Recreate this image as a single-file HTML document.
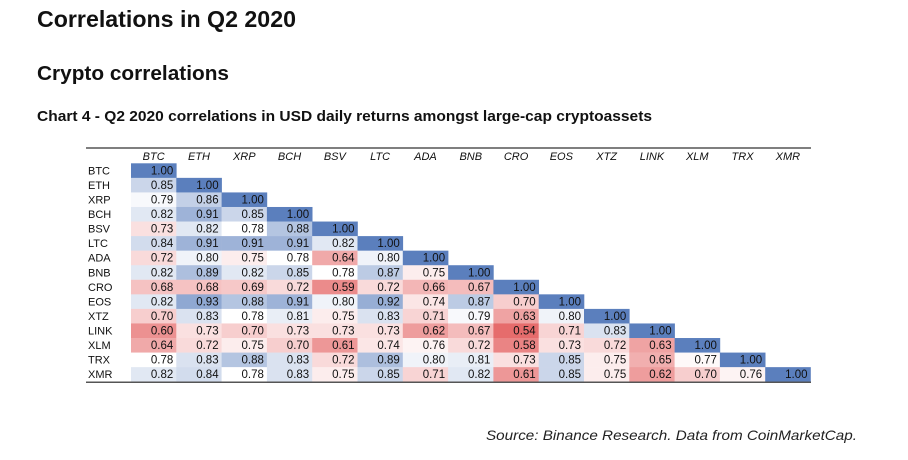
<!DOCTYPE html>
<html><head><meta charset="utf-8"><style>
body{margin:0;background:#fff;}
svg{display:block;font-family:"Liberation Sans",sans-serif;}
</style></head><body>
<svg id="c" width="908" height="460">
<text x="37" y="27" font-size="23" font-weight="bold" fill="#111" textLength="259" lengthAdjust="spacingAndGlyphs">Correlations in Q2 2020</text>
<text x="37" y="80" font-size="20" font-weight="bold" fill="#111" textLength="192" lengthAdjust="spacingAndGlyphs">Crypto correlations</text>
<text x="37" y="121" font-size="15" font-weight="bold" fill="#111" textLength="615" lengthAdjust="spacingAndGlyphs">Chart 4 - Q2 2020 correlations in USD daily returns amongst large-cap cryptoassets</text>
<text x="857" y="440" font-size="14" font-style="italic" fill="#222" text-anchor="end" textLength="371" lengthAdjust="spacingAndGlyphs">Source: Binance Research. Data from CoinMarketCap.</text>
<g id="tbl"></g>
</svg>
<script>
const assets=["BTC","ETH","XRP","BCH","BSV","LTC","ADA","BNB","CRO","EOS","XTZ","LINK","XLM","TRX","XMR"];
const corr=[
[1.00],
[0.85,1.00],
[0.79,0.86,1.00],
[0.82,0.91,0.85,1.00],
[0.73,0.82,0.78,0.88,1.00],
[0.84,0.91,0.91,0.91,0.82,1.00],
[0.72,0.80,0.75,0.78,0.64,0.80,1.00],
[0.82,0.89,0.82,0.85,0.78,0.87,0.75,1.00],
[0.68,0.68,0.69,0.72,0.59,0.72,0.66,0.67,1.00],
[0.82,0.93,0.88,0.91,0.80,0.92,0.74,0.87,0.70,1.00],
[0.70,0.83,0.78,0.81,0.75,0.83,0.71,0.79,0.63,0.80,1.00],
[0.60,0.73,0.70,0.73,0.73,0.73,0.62,0.67,0.54,0.71,0.83,1.00],
[0.64,0.72,0.75,0.70,0.61,0.74,0.76,0.72,0.58,0.73,0.72,0.63,1.00],
[0.78,0.83,0.88,0.83,0.72,0.89,0.80,0.81,0.73,0.85,0.75,0.65,0.77,1.00],
[0.82,0.84,0.78,0.83,0.75,0.85,0.71,0.82,0.61,0.85,0.75,0.62,0.70,0.76,1.00]
];
const NS="http://www.w3.org/2000/svg";
const g=document.getElementById("tbl");
const x0=131,cw=45.3,y0=163.3,rh=14.56,lx=88;
const colX=i=>x0+i*cw, rowY=i=>y0+i*rh;
const vmin=0.54,vmid=0.78,vmax=1.0;
function color(v){
  const lo=[230,108,108],hi=[91,127,189],w=[255,255,255];
  let t,c;
  if(v<vmid){t=(vmid-v)/(vmid-vmin);c=lo;}else{t=(v-vmid)/(vmax-vmid);c=hi;}
  t=Math.max(0,Math.min(1,t));
  return "rgb("+w.map((a,k)=>Math.round(a+(c[k]-a)*t)).join(",")+")";
}
function el(tag,attrs){const e=document.createElementNS(NS,tag);for(const k in attrs)e.setAttribute(k,attrs[k]);g.appendChild(e);return e;}
const topRule=el("line",{x1:86,x2:811,y1:148,y2:148,stroke:"#333","stroke-width":1.3});


assets.forEach((a,i)=>{
  const h=el("text",{x:colX(i)+cw/2,y:160,"font-size":11,"font-style":"italic","text-anchor":"middle",fill:"#111"});
  h.textContent=a;
  
  
  const r=el("text",{x:lx,y:rowY(i)+rh-3.5,"font-size":11,fill:"#111"});
  r.textContent=a;
  
  
});
corr.forEach((row,i)=>{
  row.forEach((v,j)=>{
    const rc=el("rect",{x:colX(j),y:rowY(i),width:cw+0.3,height:rh+0.3,fill:color(v)});
    
    
    const t=el("text",{x:colX(j)+cw-3,y:rowY(i)+rh-3.5,"font-size":11.5,"text-anchor":"end",fill:"#111"});
    t.textContent=v.toFixed(2);
    
    
  });
});
const botRule=el("line",{x1:86,x2:811,y1:y0+assets.length*rh+0.5,y2:y0+assets.length*rh+0.5,stroke:"#555","stroke-width":1.5});


</script>
</body></html>
